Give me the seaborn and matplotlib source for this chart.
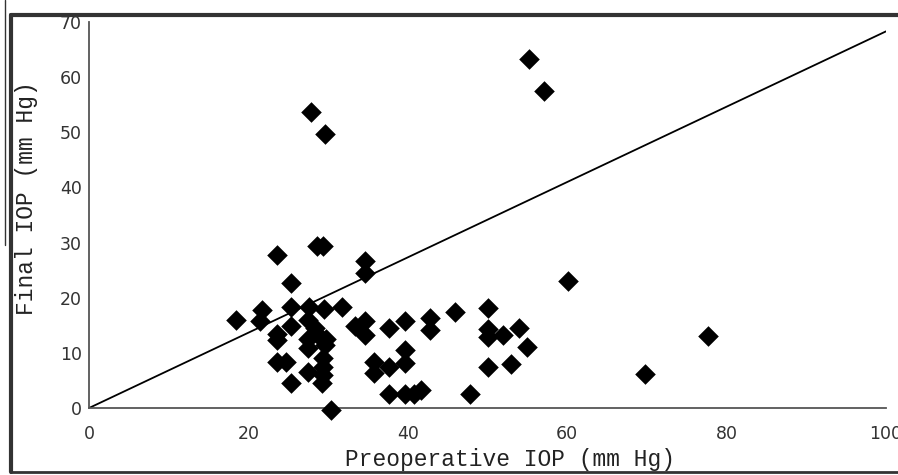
import numpy as np
import pandas as pd
import seaborn as sns
import matplotlib.pyplot as plt
from matplotlib.lines import Line2D

# valores (mm Hg)
preop_iop = [18.4, 21.7, 21.5, 23.6, 25.3, 25.3, 25.3, 23.6, 23.6, 23.6,
             24.7, 25.3, 28.6, 29.4, 27.6, 29.5, 31.7, 27.5, 28.4, 27.5,
             29.0, 29.7, 27.5, 29.6, 29.4, 29.4, 27.5, 29.4, 29.2, 30.4,
             27.9, 29.6, 34.6, 34.6, 33.4, 34.6, 34.6, 37.7, 39.6, 42.8,
             42.8, 45.9, 35.7, 35.7, 37.7, 39.6, 39.6, 37.7, 39.6, 40.8,
             41.7, 47.8, 50.1, 50.1, 50.1, 52.0, 53.9, 54.9, 50.1, 53.0,
             60.1, 55.2, 57.1, 69.8, 77.7]
final_iop = [16.0, 17.8, 15.7, 27.8, 22.6, 18.4, 14.8, 13.4, 12.3, 8.4,
             8.4, 4.5, 29.4, 29.4, 18.4, 17.9, 18.3, 16.0, 14.5, 12.6,
             12.9, 12.6, 10.8, 11.4, 9.0, 7.5, 6.6, 6.0, 4.5, -0.3,
             53.7, 49.7, 26.6, 24.4, 14.8, 15.7, 13.2, 14.5, 15.7, 16.3,
             14.2, 17.5, 8.4, 6.3, 7.5, 10.5, 8.1, 2.5, 2.5, 2.5,
             3.3, 2.5, 18.1, 14.3, 12.9, 13.2, 14.5, 11.1, 7.5, 8.0,
             23.1, 63.2, 57.5, 6.2, 13.1]

line_x = [0, 100]
line_y = [0, 68.3]

x_ticks = [0, 20, 40, 60, 80, 100]
y_ticks = [0, 10, 20, 30, 40, 50, 60, 70]

df = pd.DataFrame({'preop': preop_iop, 'final': final_iop})

sns.set_style('white')
fig = plt.figure(figsize=(8.98, 4.75), dpi=100)
ax = fig.add_axes([0.0991, 0.141, 0.8875, 0.8127])

sns.lineplot(x=line_x, y=line_y, ax=ax, color='black', linewidth=1.3)
sns.scatterplot(data=df, x='preop', y='final', ax=ax, marker='D', s=110,
                color='black', edgecolor='black', linewidth=0, clip_on=False, zorder=3)

ax.set_xlim(0, 100)
ax.set_ylim(0, 70)
ax.set_xticks(x_ticks)
ax.set_yticks(y_ticks)

for side in ['top', 'right']:
    ax.spines[side].set_visible(False)
for side in ['left', 'bottom']:
    ax.spines[side].set_color('#555555')
    ax.spines[side].set_linewidth(1.3)

ax.tick_params(axis='both', direction='in', length=12, width=1, color='#777777',
               labelsize=12.5, labelcolor='#333333')
ax.tick_params(axis='x', pad=12)
ax.tick_params(axis='y', pad=5)
# el 0 del eje x no tiene marca
ax.xaxis.get_major_ticks()[0].tick1line.set_visible(False)

ax.set_xlabel('Preoperative IOP (mm Hg)', family='Liberation Mono', fontsize=16.5,
              color='#222222', labelpad=4)
ax.set_ylabel('Final IOP (mm Hg)', family='Liberation Mono', fontsize=16.5,
              color='#222222', labelpad=15.5)
ax.xaxis.label.set_x(0.528)
ax.yaxis.label.set_y(0.544)

# marco del escaneo
fig.add_artist(Line2D([11 / 898, 1.0], [1 - 15 / 475, 1 - 15 / 475], color='#333333', linewidth=3))
fig.add_artist(Line2D([11 / 898, 11 / 898], [1 - 15 / 475, 1 - 472 / 475], color='#333333', linewidth=3))
fig.add_artist(Line2D([11 / 898, 1.0], [1 - 472 / 475, 1 - 472 / 475], color='#333333', linewidth=2))
fig.add_artist(Line2D([5 / 898, 5 / 898], [1.0, 1 - 245 / 475], color='#333333', linewidth=1))

fig.savefig('out.png', dpi=100)
